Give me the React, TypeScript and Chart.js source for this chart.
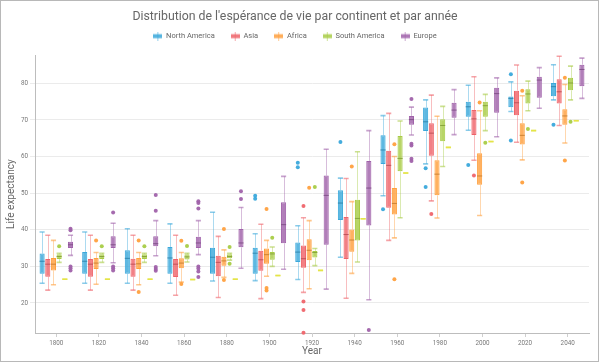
import React, { useEffect, useRef } from 'react';
import { Chart, registerables, layouts } from 'chart.js';

Chart.register(...registerables);

const FONT = "Roboto, 'Open Sans', sans-serif";

const years = ['1800', '1820', '1840', '1860', '1880', '1900', '1920', '1940', '1960', '1980', '2000', '2020', '2040'];

// each row: [min, q1, median, q3, max]
const northAmerica = [
  [25.4, 28.0, 31.4, 33.5, 39.4],
  [25.4, 28.0, 31.4, 33.9, 39.4],
  [25.4, 28.0, 32.2, 34.4, 40.3],
  [25.4, 28.0, 32.3, 35.3, 41.6],
  [26.0, 28.0, 32.5, 35.1, 44.8],
  [26.1, 28.0, 33.6, 35.1, 38.9],
  [26.4, 31.2, 33.9, 36.5, 41.1],
  [32.5, 42.7, 47.3, 50.8, 54.1],
  [49.3, 58.0, 61.8, 65.8, 71.2],
  [58.0, 67.0, 69.5, 73.4, 75.5],
  [67.2, 70.9, 73.6, 75.0, 79.5],
  [72.3, 73.5, 75.9, 76.4, 80.4],
  [75.5, 76.5, 79.1, 80.1, 85.1],
];
const northAmericaOutliers = [[], [], [], [], [], [49.3, 48.5], [58.3, 57.1], [64.0], [45.6], [56.8, 51.7], [57.7], [82.5, 64.4], [68.7]];

const asia = [
  [23.5, 27.2, 30.6, 32.0, 38.5],
  [23.5, 27.2, 30.6, 32.0, 38.5],
  [23.5, 27.2, 30.6, 32.1, 38.5],
  [22.1, 27.1, 30.6, 32.0, 38.5],
  [21.5, 27.3, 31.1, 32.9, 38.2],
  [21.2, 28.8, 31.8, 34.3, 41.5],
  [22.9, 29.6, 32.1, 35.7, 43.3],
  [21.3, 32.0, 38.7, 43.5, 54.0],
  [37.1, 46.0, 57.6, 61.6, 71.8],
  [47.9, 60.2, 66.4, 69.1, 76.8],
  [59.0, 65.9, 70.3, 72.7, 81.8],
  [63.9, 71.3, 74.7, 78.0, 85.0],
  [68.5, 74.5, 77.7, 81.1, 87.4],
];
const asiaOutliers = [[], [], [], [], [], [], [46.5, 20.4, 18.1, 11.9], [], [], [44.3], [54.8], [], []];

const africa = [
  [25.0, 28.9, 30.6, 32.3, 37.1],
  [25.1, 29.3, 30.9, 32.3, 33.8],
  [25.0, 29.3, 30.7, 32.3, 33.8],
  [25.7, 29.5, 30.9, 32.2, 33.8],
  [27.0, 30.2, 31.5, 32.6, 34.5],
  [27.3, 30.7, 33.2, 34.9, 37.1],
  [23.9, 31.7, 34.4, 37.4, 42.5],
  [28.1, 34.0, 37.2, 40.1, 47.7],
  [37.8, 44.2, 47.2, 51.4, 60.0],
  [43.2, 49.4, 55.2, 59.0, 71.0],
  [43.9, 52.3, 54.7, 60.9, 72.5],
  [59.1, 63.3, 65.8, 69.1, 76.6],
  [63.7, 68.7, 71.1, 72.9, 79.7],
];
const africaOutliers = [[], [37.1], [37.1, 23.0], [37.0, 25.2], [40.2, 26.3], [45.7, 24.1, 23.4], [51.5], [57.3], [63.4, 26.5], [], [74.8], [78.0, 52.9], [81.5, 58.9]];

const southAmerica = [
  [31.1, 32.0, 32.7, 33.3, 33.6],
  [31.1, 32.0, 32.7, 33.3, 33.6],
  [31.1, 32.0, 32.7, 33.3, 33.6],
  [31.2, 31.9, 32.6, 33.3, 33.6],
  [31.7, 32.2, 32.7, 33.3, 33.6],
  [30.0, 31.8, 33.4, 33.9, 35.3],
  [30.2, 32.4, 33.8, 34.2, 34.9],
  [31.2, 37.1, 43.1, 48.2, 61.3],
  [43.3, 56.0, 59.5, 65.6, 69.7],
  [57.3, 64.2, 68.5, 70.2, 73.7],
  [67.1, 70.9, 73.9, 75.0, 77.0],
  [72.5, 74.5, 77.1, 78.4, 80.6],
  [75.5, 78.1, 80.1, 81.5, 84.7],
];
const southAmericaOutliers = [[35.5], [35.5], [35.5], [35.6], [35.3, 30.7], [37.8], [51.7], [], [], [], [63.8], [67.5], [69.5]];

const oceania = [
  [26.5, 26.5, 26.5, 26.5, 26.5],
  [26.5, 26.5, 26.5, 26.5, 26.5],
  [26.5, 26.5, 26.5, 26.5, 26.5],
  [26.4, 26.4, 26.4, 26.4, 26.4],
  [26.5, 26.5, 26.5, 26.5, 26.5],
  [27.5, 27.5, 27.5, 27.5, 27.5],
  [28.9, 28.9, 28.9, 28.9, 28.9],
  [43.0, 43.0, 43.0, 43.0, 43.0],
  [55.5, 55.5, 55.5, 55.5, 55.5],
  [62.5, 62.5, 62.5, 62.5, 62.5],
  [64.1, 64.1, 64.1, 64.1, 64.1],
  [67.1, 67.1, 67.1, 67.1, 67.1],
  [69.8, 69.8, 69.8, 69.8, 69.8],
];
const oceaniaOutliers = [[], [], [], [], [], [], [], [], [], [], [], [], []];

const europe = [
  [33.0, 35.0, 35.9, 36.7, 38.5],
  [31.0, 35.0, 35.9, 38.2, 41.8],
  [32.9, 35.5, 36.2, 38.2, 42.5],
  [33.2, 35.0, 36.4, 38.1, 42.5],
  [29.5, 35.2, 36.4, 40.2, 46.1],
  [29.2, 36.3, 41.4, 47.5, 54.6],
  [23.8, 35.9, 49.4, 54.8, 62.0],
  [20.9, 41.2, 51.4, 58.8, 67.1],
  [65.9, 68.7, 70.1, 71.1, 73.5],
  [66.0, 70.6, 72.7, 74.7, 78.3],
  [65.4, 72.0, 77.2, 78.8, 81.5],
  [73.2, 76.1, 80.9, 81.8, 84.3],
  [75.9, 79.2, 83.8, 85.1, 86.9],
];
const europeOutliers = [
  [40.3, 39.9, 30.0, 29.5, 28.9],
  [44.7, 30.0, 29.5, 28.9],
  [49.5, 45.2, 29.8, 29.3, 28.8],
  [47.8, 47.3, 45.8, 30.0, 29.4, 28.6, 27.1],
  [50.5, 48.4],
  [], [], [12.6],
  [75.7, 63.5, 63.0, 59.4, 58.8],
  [], [], [], [],
];

type Series = { label: string; rgb: number[]; stats: number[][]; outliers: number[][]; inLegend: boolean };

const SERIES: Series[] = [
  { label: 'North America', rgb: [58, 168, 219], stats: northAmerica, outliers: northAmericaOutliers, inLegend: true },
  { label: 'Asia', rgb: [239, 100, 106], stats: asia, outliers: asiaOutliers, inLegend: true },
  { label: 'Africa', rgb: [255, 160, 62], stats: africa, outliers: africaOutliers, inLegend: true },
  { label: 'South America', rgb: [168, 204, 70], stats: southAmerica, outliers: southAmericaOutliers, inLegend: true },
  { label: 'Oceania', rgb: [228, 228, 72], stats: oceania, outliers: oceaniaOutliers, inLegend: false },
  { label: 'Europe', rgb: [160, 98, 170], stats: europe, outliers: europeOutliers, inLegend: true },
];

const rgba = (c: number[], a: number) => `rgba(${c[0]},${c[1]},${c[2]},${a})`;
const darker = (c: number[], f: number) => c.map((v) => Math.round(v * f));

const boxPlotPlugin = {
  id: 'boxPlotParts',
  beforeDatasetsDraw(chart: any) {
    const ctx = chart.ctx;
    const ys = chart.scales.y;
    ctx.save();
    SERIES.forEach((s, di) => {
      const meta = chart.getDatasetMeta(di);
      meta.data.forEach((el: any, i: number) => {
        const [mn, q1, , q3, mx] = s.stats[i];
        const x = Math.round(el.x) + 0.5;
        const hw = el.width / 2;
        ctx.strokeStyle = rgba(s.rgb, 0.42);
        ctx.lineWidth = 1;
        ctx.beginPath();
        ctx.moveTo(x, ys.getPixelForValue(mx));
        ctx.lineTo(x, ys.getPixelForValue(q3));
        ctx.moveTo(x, ys.getPixelForValue(q1));
        ctx.lineTo(x, ys.getPixelForValue(mn));
        ctx.stroke();
        ctx.strokeStyle = rgba(s.rgb, 0.6);
        ctx.lineWidth = 1.6;
        ctx.beginPath();
        ctx.moveTo(el.x - hw, ys.getPixelForValue(mx));
        ctx.lineTo(el.x + hw, ys.getPixelForValue(mx));
        ctx.moveTo(el.x - hw, ys.getPixelForValue(mn));
        ctx.lineTo(el.x + hw, ys.getPixelForValue(mn));
        ctx.stroke();
      });
    });
    ctx.restore();
  },
  afterDatasetsDraw(chart: any) {
    const ctx = chart.ctx;
    const ys = chart.scales.y;
    ctx.save();
    SERIES.forEach((s, di) => {
      const meta = chart.getDatasetMeta(di);
      meta.data.forEach((el: any, i: number) => {
        const med = s.stats[i][2];
        const hw = el.width / 2;
        const py = ys.getPixelForValue(med);
        ctx.strokeStyle = rgba(darker(s.rgb, 0.78), 0.9);
        ctx.lineWidth = s.inLegend ? 1 : 1.6;
        if (!s.inLegend) ctx.strokeStyle = rgba(s.rgb, 1);
        ctx.beginPath();
        ctx.moveTo(el.x - hw, py);
        ctx.lineTo(el.x + hw, py);
        ctx.stroke();
        ctx.fillStyle = rgba(s.rgb, 0.95);
        s.outliers[i].forEach((v) => {
          ctx.beginPath();
          ctx.arc(el.x, ys.getPixelForValue(v), 2, 0, Math.PI * 2);
          ctx.fill();
        });
      });
    });
    ctx.restore();
  },
};

const SPACER = 5.25;
const spacerPlugin = {
  id: 'legendSpacer',
  beforeInit(chart: any) {
    const box: any = {
      position: 'top',
      weight: 500,
      fullSize: true,
      options: { stack: undefined, stackWeight: 1 },
      top: 0, bottom: 0, left: 0, right: 0, width: 0, height: 0,
      update(maxWidth: number) {
        this.width = maxWidth;
        this.height = SPACER;
      },
      isHorizontal() {
        return true;
      },
      draw() {},
    };
    layouts.addBox(chart, box);
  },
};

function makeIcon(c: number[]) {
  const cv = document.createElement('canvas');
  cv.width = 9;
  cv.height = 9;
  const g = cv.getContext('2d')!;
  g.fillStyle = rgba(c, 0.85);
  g.fillRect(0, 2.5, 9, 4);
  g.fillStyle = rgba(c, 0.55);
  g.fillRect(4, 0, 1, 9);
  return cv;
}

export default function App() {
  const ref = useRef<HTMLCanvasElement | null>(null);

  useEffect(() => {
    if (!ref.current) return;
    const icons = SERIES.map((s) => makeIcon(s.rgb));
    const chart = new Chart(ref.current, {
      type: 'bar',
      data: {
        labels: years,
        datasets: SERIES.map((s) => ({
          label: s.label,
          data: s.stats.map((r) => [r[1], r[3]]),
          backgroundColor: rgba(s.rgb, 0.82),
          borderColor: rgba(s.rgb, 1),
          borderWidth: s.inLegend ? 1 : 0,
          borderSkipped: false,
          categoryPercentage: 0.8,
          barPercentage: 0.9,
        })) as any,
      },
      options: {
        responsive: false,
        devicePixelRatio: 1,
        animation: false,
        layout: { padding: { left: 0, right: 9, top: 0, bottom: 0 } },
        plugins: {
          tooltip: { enabled: false },
          title: {
            display: true,
            text: "Distribution de l'espérance de vie par continent et par année",
            color: '#666',
            font: { family: FONT, size: 12.3, weight: 'normal' },
            padding: { top: 8.8, bottom: -8.13 },
          },
          legend: {
            position: 'top',
            labels: {
              usePointStyle: true,
              pointStyleWidth: 9,
              padding: 16,
              color: '#666',
              font: { family: FONT, size: 7.5 },
              generateLabels: () =>
                SERIES.map((s, i) => ({
                  text: s.label,
                  pointStyle: icons[i],
                  datasetIndex: i,
                  hidden: false,
                  fillStyle: rgba(s.rgb, 0.8),
                  strokeStyle: rgba(s.rgb, 1),
                  lineWidth: 0,
                  fontColor: '#666',
                })).filter((_, i) => SERIES[i].inLegend) as any,
            },
          },
        },
        scales: {
          x: {
            type: 'category',
            offset: true,
            grid: { display: true, drawOnChartArea: false, offset: false, tickLength: 4, color: '#cfcfcf' },
            border: { color: '#bdbdbd' },
            ticks: { color: '#777', font: { family: FONT, size: 6.3 }, padding: 3, maxRotation: 0, autoSkip: false },
            title: { display: true, text: 'Year', color: '#666', font: { family: FONT, size: 10 }, padding: { top: 0, bottom: 4 } },
            afterFit: (scale: any) => {
              scale.height = 28;
            },
          },
          y: {
            type: 'linear',
            min: 11.8,
            max: 87.7,
            beginAtZero: false,
            grid: { color: '#ebebeb', tickLength: 5 },
            border: { color: '#bdbdbd' },
            ticks: {
              stepSize: 10,
              includeBounds: false,
              color: '#777',
              font: { family: FONT, size: 6.3 },
              padding: 2,
              callback: (v: any) => String(v),
            },
            title: { display: true, text: 'Life expectancy', color: '#666', font: { family: FONT, size: 10 }, padding: { top: 4, bottom: 0 } },
            afterFit: (scale: any) => {
              scale.width = 34;
            },
          },
        },
      } as any,
      plugins: [boxPlotPlugin, spacerPlugin],
    });
    return () => chart.destroy();
  }, []);

  return (
    <div
      style={{
        position: 'absolute',
        left: 0,
        top: 0,
        width: 599,
        height: 362,
        boxSizing: 'border-box',
        border: '1px solid #b8b8b8',
        background: '#fff',
      }}
    >
      <canvas ref={ref} width={597} height={360} style={{ display: 'block', width: 597, height: 360 }} />
    </div>
  );
}
